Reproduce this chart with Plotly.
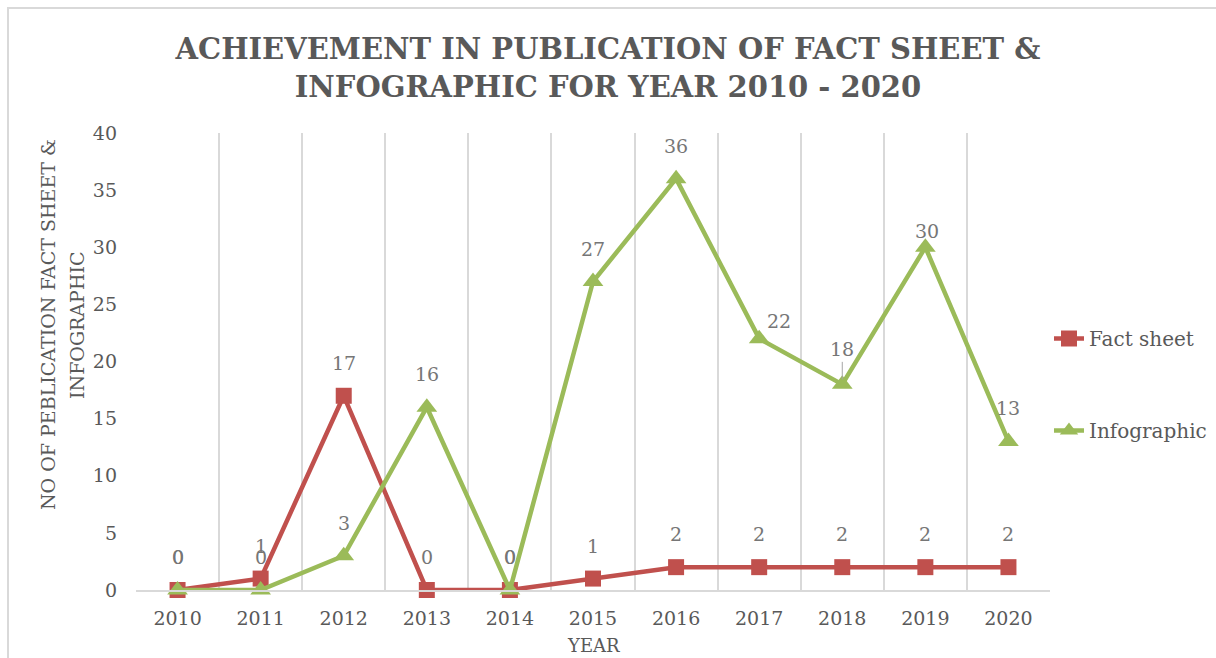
import plotly.graph_objects as go

years = ["2010", "2011", "2012", "2013", "2014", "2015", "2016", "2017", "2018", "2019", "2020"]
fact_sheet = [0, 1, 17, 0, 0, 1, 2, 2, 2, 2, 2]
infographic = [0, 0, 3, 16, 0, 27, 36, 22, 18, 30, 13]

y_ticks = [0, 5, 10, 15, 20, 25, 30, 35, 40]

# label offsets (pixels) for data labels
fact_offsets = [(0, -33)] * 11
info_offsets = [(0, -33), (0, -33), (0, -33), (0, -33), (0, -33), (0, -33),
                (0, -33), (20, -18), (0, -35), (2, -16), (0, -33)]
info_leader = [False, False, False, False, False, False, False, False, True, False, False]

RED = "#C0504D"
GREEN = "#9BBB59"
TXT = "#595959"
LBL = "#767676"
GRID = "#d9d9d9"
FONT = "DejaVu Serif"

fig = go.Figure()
fig.add_trace(go.Scatter(
    x=years, y=fact_sheet, name="Fact sheet", mode="lines+markers",
    line=dict(color=RED, width=4.5),
    marker=dict(symbol="square", size=16, color=RED),
    cliponaxis=False, legendgroup="a"))
fig.add_trace(go.Scatter(
    x=years, y=infographic, name="Infographic", mode="lines+markers",
    line=dict(color=GREEN, width=4.5),
    marker=dict(symbol="triangle-up", size=18, color=GREEN),
    cliponaxis=False, legendgroup="b"))

annotations = []
for i, (yv, (dx, dy)) in enumerate(zip(fact_sheet, fact_offsets)):
    annotations.append(dict(x=i, y=yv, xref="x", yref="y", text=str(yv), showarrow=False,
                            xshift=dx, yshift=-dy,
                            font=dict(family=FONT, size=19, color=LBL)))
for i, (yv, (dx, dy), lead) in enumerate(zip(infographic, info_offsets, info_leader)):
    if lead:
        annotations.append(dict(x=i, y=yv, xref="x", yref="y", text=str(yv), showarrow=True,
                                ax=dx, ay=dy, arrowhead=0, arrowwidth=1,
                                arrowcolor="#a6a6a6", standoff=5,
                                font=dict(family=FONT, size=19, color=LBL)))
    else:
        annotations.append(dict(x=i, y=yv, xref="x", yref="y", text=str(yv), showarrow=False,
                                xshift=dx, yshift=-dy,
                                font=dict(family=FONT, size=19, color=LBL)))

# axis titles
annotations.append(dict(xref="paper", yref="paper", x=(48 - 136) / 914, y=(590 - 325) / 457,
                        xanchor="center", yanchor="middle",
                        text="NO OF PEBLICATION FACT SHEET &", textangle=-90,
                        showarrow=False, font=dict(family=FONT, size=19, color=TXT)))
annotations.append(dict(xref="paper", yref="paper", x=(77 - 136) / 914, y=(590 - 325) / 457,
                        xanchor="center", yanchor="middle",
                        text="INFOGRAPHIC", textangle=-90,
                        showarrow=False, font=dict(family=FONT, size=19, color=TXT)))
annotations.append(dict(xref="paper", yref="paper", x=(593 - 136) / 914, y=(590 - 645) / 457,
                        xanchor="center", yanchor="middle",
                        text="YEAR", showarrow=False,
                        font=dict(family=FONT, size=18, color=TXT)))

fig.update_layout(
    width=1216, height=658,
    margin=dict(l=136, r=166, t=133, b=68, autoexpand=False),
    paper_bgcolor="white", plot_bgcolor="white",
    title=dict(text="ACHIEVEMENT IN PUBLICATION OF FACT SHEET &<br>INFOGRAPHIC FOR YEAR 2010 - 2020",
               x=0.5, xref="container", xanchor="center",
               y=1 - 59 / 658, yref="container", yanchor="middle",
               font=dict(family=FONT, size=29, color=TXT, weight="bold")),
    xaxis=dict(type="category", range=[-0.5, 10.5], tickson="boundaries",
               showgrid=True, gridcolor=GRID, gridwidth=2, showline=True,
               linecolor=GRID, linewidth=2, ticks="", ticklabelstandoff=10,
               tickfont=dict(family=FONT, size=19, color=TXT)),
    yaxis=dict(range=[0, 40], tickvals=y_ticks, showgrid=False, zeroline=False,
               showline=False, ticks="", ticklabelstandoff=18,
               tickfont=dict(family=FONT, size=19, color=TXT)),
    legend=dict(x=(1049 - 136) / 914, xanchor="left", y=(590 - 319) / 457, yanchor="top",
                font=dict(family=FONT, size=20, color=TXT), tracegroupgap=63,
                bgcolor="rgba(0,0,0,0)"),
    showlegend=True,
    annotations=annotations,
    shapes=[dict(type="rect", xref="paper", yref="paper",
                 x0=(8 - 136) / 914, x1=(1230 - 136) / 914,
                 y0=(590 - 670) / 457, y1=(590 - 8) / 457,
                 line=dict(color=GRID, width=2), layer="below")],
)

fig.write_html("out.html")
